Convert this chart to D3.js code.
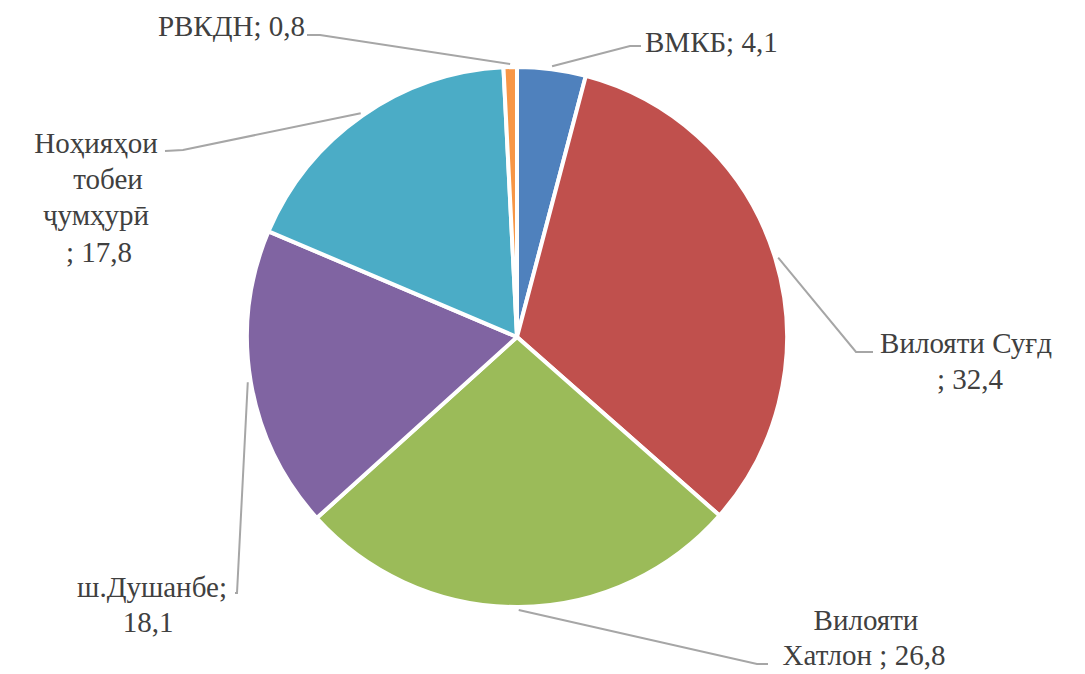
<!DOCTYPE html>
<html>
<head>
<meta charset="utf-8">
<script src="https://cdn.jsdelivr.net/npm/d3@7"></script>
<style>
  html, body { margin: 0; padding: 0; background: #ffffff; }
  svg { display: block; }
</style>
</head>
<body>
<svg id="chart" width="1085" height="674"></svg>
<script>
// ---- data ----
const categories = ["ВМКБ", "Вилояти Суғд", "Вилояти Хатлон", "ш.Душанбе", "Ноҳияҳои тобеи ҷумҳурӣ", "РВКДН"];
const values = [4.1, 32.4, 26.8, 18.1, 17.8, 0.8];
const colors = ["#4F81BD", "#C0504D", "#9BBB59", "#8064A2", "#4BACC6", "#F79646"];
const labelLines = [
  ["ВМКБ; 4,1"],
  ["Вилояти Суғд", "; 32,4"],
  ["Вилояти", "Хатлон ; 26,8"],
  ["ш.Душанбе;", "18,1"],
  ["Ноҳияҳои", "тобеи", "ҷумҳурӣ", "; 17,8"],
  ["РВКДН; 0,8"]
];

// ---- layout ----
const W = 1085, H = 674;
const cx = 517, cy = 337, R = 270;
const fontFamily = "'Liberation Serif', 'Times New Roman', 'DejaVu Serif', serif";
const labelLayout = [
  { anchor: "start", xs: [645], ys: [52], leader: [[630, 46], [641, 46]] },
  { anchor: "middle", xs: [966, 970], ys: [353, 389], leader: [[856, 352], [873, 352]] },
  { anchor: "middle", xs: [866, 864], ys: [630, 665], leader: [[757, 664], [768, 664]] },
  { anchor: "middle", xs: [152, 148], ys: [597, 632], leader: [[237, 593], [235, 593]] },
  { anchor: "middle", xs: [96, 108, 96, 99], ys: [153, 189, 225, 262], leader: [[183, 150], [165, 151]] },
  { anchor: "end", xs: [305], ys: [36], leader: [[320, 35], [307, 35]] }
];

const svg = d3.select("#chart");
svg.append("rect").attr("width", W).attr("height", H).attr("fill", "#ffffff");

// fit font size so that a reference label matches its width in the original (~177px)
const probe = svg.append("text").attr("font-family", fontFamily).attr("font-size", 34).text(labelLines[5][0]);
const probeW = probe.node().getComputedTextLength();
probe.remove();
const fontSize = Math.min(29, probeW > 0 ? 34 * 177 / probeW : 29);

const pie = d3.pie().sort(null).value(d => d)(values);
const arc = d3.arc().innerRadius(0).outerRadius(R);

const g = svg.append("g").attr("transform", `translate(${cx},${cy})`);
g.selectAll("path.slice")
  .data(pie)
  .join("path")
  .attr("class", "slice")
  .attr("d", arc)
  .attr("fill", (d, i) => colors[i])
  .attr("stroke", "#ffffff")
  .attr("stroke-width", 4)
  .attr("stroke-linejoin", "round");

// leader lines
const line = d3.line();
pie.forEach((d, i) => {
  const mid = (d.startAngle + d.endAngle) / 2;
  const r0 = R + 3;
  const start = [cx + r0 * Math.sin(mid), cy - r0 * Math.cos(mid)];
  const pts = [start].concat(labelLayout[i].leader);
  svg.append("path")
    .attr("d", line(pts))
    .attr("fill", "none")
    .attr("stroke", "#A6A6A6")
    .attr("stroke-width", 2);
});

// labels
labelLines.forEach((lines, i) => {
  const L = labelLayout[i];
  const t = svg.append("text")
    .attr("font-family", fontFamily)
    .attr("font-size", fontSize)
    .attr("fill", "#404040")
    .attr("text-anchor", L.anchor);
  lines.forEach((s, j) => {
    t.append("tspan").attr("x", L.xs[j]).attr("y", L.ys[j]).text(s);
  });
});
</script>
</body>
</html>
